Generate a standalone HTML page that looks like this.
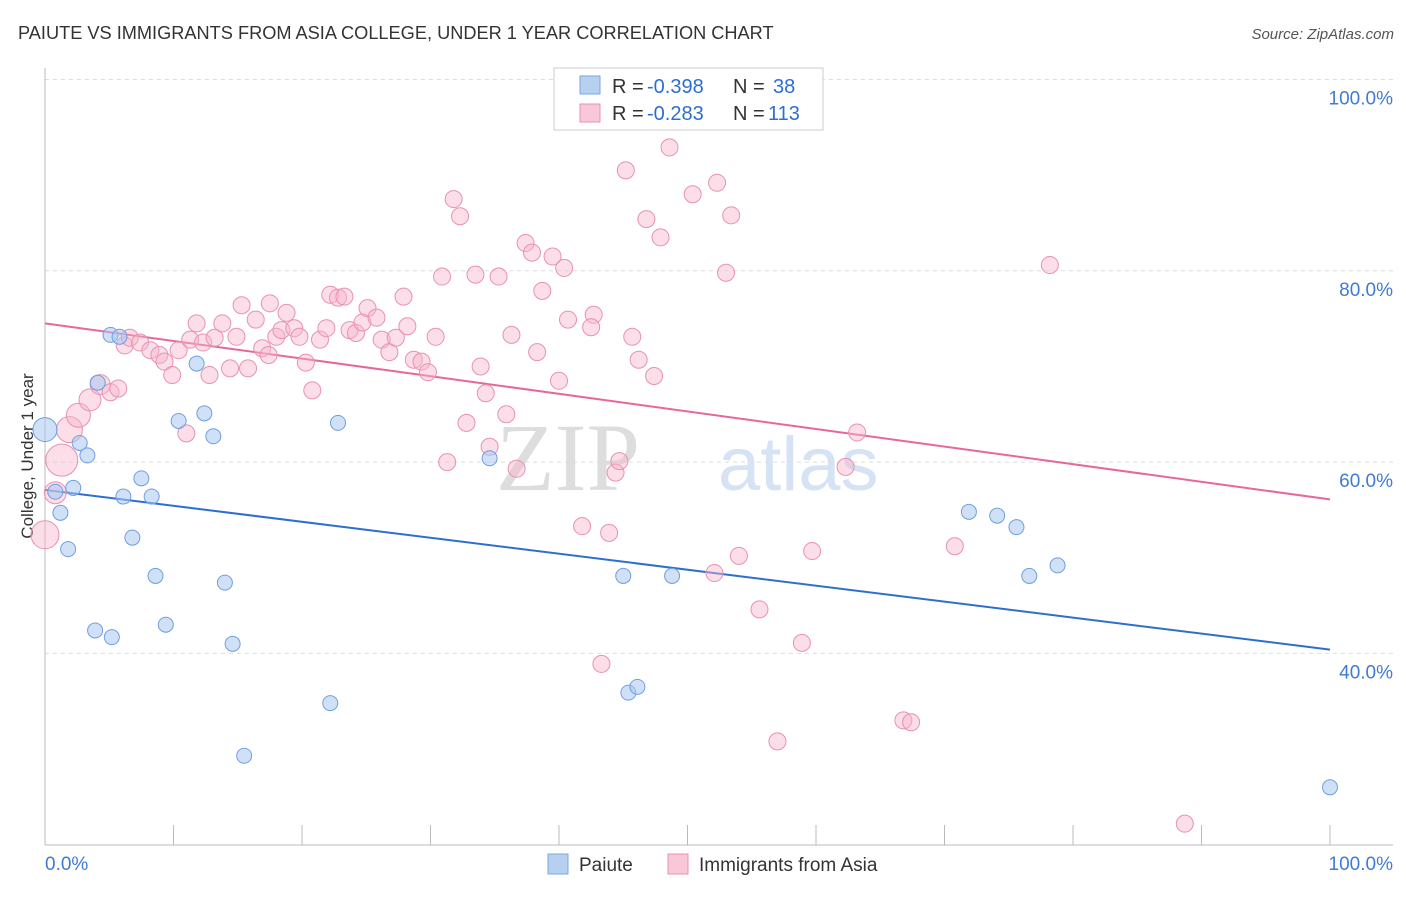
<!DOCTYPE html>
<html><head><meta charset="utf-8"><style>
body{margin:0;background:#fff;font-family:"Liberation Sans",sans-serif}
</style></head><body>
<svg id="chart" width="1406" height="892" xmlns="http://www.w3.org/2000/svg" font-family="Liberation Sans, sans-serif">
<text x="18" y="39" font-size="18.2" fill="#333">PAIUTE VS IMMIGRANTS FROM ASIA COLLEGE, UNDER 1 YEAR CORRELATION CHART</text>
<text x="1394" y="39" font-size="15" fill="#555" text-anchor="end" font-style="italic">Source: ZipAtlas.com</text>
<text transform="translate(33,456) rotate(-90)" font-size="17" fill="#333" text-anchor="middle">College, Under 1 year</text>
<g>
<text x="640" y="490" font-size="96" fill="#ddd" text-anchor="end" font-family="Liberation Serif, serif">ZIP</text>
<text x="718" y="490" font-size="76" fill="#d5e3f5">atlas</text>
</g>
<g id="grid"></g><g id="axes"></g><g id="trend"></g><g id="pts"></g>
<g>
<rect x="554" y="68" width="269" height="62" fill="#fff" stroke="#ccc"/>
<rect x="580" y="76" width="20" height="18" fill="#b8d0f0" stroke="#7aa6e0"/>
<rect x="580" y="104" width="20" height="18" fill="#f9c8d8" stroke="#e991b0"/>
<text x="612" y="93" font-size="20" fill="#333">R =</text>
<text x="647" y="93" font-size="20" fill="#2d6fd0">-0.398</text>
<text x="733" y="93" font-size="20" fill="#333">N =</text>
<text x="773" y="93" font-size="20" fill="#2d6fd0">38</text>
<text x="612" y="120" font-size="20" fill="#333">R =</text>
<text x="647" y="120" font-size="20" fill="#2d6fd0">-0.283</text>
<text x="733" y="120" font-size="20" fill="#333">N =</text>
<text x="768" y="120" font-size="20" fill="#2d6fd0">113</text>
</g>
<g>
<rect x="548" y="854" width="20" height="20" fill="#b8d0f0" stroke="#7aa6e0"/>
<text x="579" y="871" font-size="19" fill="#333">Paiute</text>
<rect x="668" y="854" width="20" height="20" fill="#f9c8d8" stroke="#e991b0"/>
<text x="699" y="871" font-size="19" fill="#333">Immigrants from Asia</text>
</g>
</svg>
<script>
const blueX=[0,0.8,1.2,1.8,2.2,2.7,3.3,4.1,5.1,5.8,3.9,5.2,6.1,6.8,7.5,8.3,8.6,9.4,10.4,11.8,12.4,13.1,14.0,14.6,15.5,22.2,22.8,34.6,45.0,45.4,46.1,48.8,71.9,74.1,75.6,76.6,78.8,100];
const blueY=[63.4,56.9,54.7,50.9,57.3,62.0,60.7,68.3,73.3,73.1,42.4,41.7,56.4,52.1,58.3,56.4,48.1,43.0,64.3,70.3,65.1,62.7,47.4,41.0,29.3,34.8,64.1,60.4,48.1,35.9,36.5,48.1,54.8,54.4,53.2,48.1,49.2,26.0];
const pinkX=[0,0.8,1.3,1.9,2.6,3.5,4.3,5.1,5.7,6.2,6.6,7.4,8.2,8.9,9.3,9.9,10.4,11.0,11.3,11.8,12.3,12.8,13.2,13.8,14.4,14.9,15.3,15.8,16.4,16.9,17.4,17.5,18.0,18.4,18.8,19.4,19.8,20.3,20.8,21.4,21.9,22.2,22.8,23.3,23.7,24.2,24.7,25.1,25.8,26.2,26.8,27.3,27.9,28.2,28.7,29.3,29.8,30.4,30.9,31.3,31.8,32.3,32.8,33.5,33.9,34.3,34.6,35.3,35.9,36.3,36.7,37.4,37.9,38.3,38.7,39.5,40.0,40.4,40.7,41.8,42.7,42.5,43.3,43.9,44.4,44.7,45.2,45.7,46.2,46.8,47.4,47.9,48.6,50.4,52.1,52.3,53.0,53.4,54.0,55.6,57.0,58.9,59.7,62.3,63.2,66.8,67.4,70.8,78.2,88.7];
const pinkY=[52.4,56.8,60.2,63.4,64.9,66.5,68.1,67.3,67.7,72.2,73.0,72.5,71.7,71.2,70.5,69.1,71.7,63.0,72.8,74.5,72.5,69.1,73.0,74.5,69.8,73.1,76.4,69.8,74.9,71.9,71.2,76.6,73.1,73.8,75.6,74.0,73.1,70.4,67.5,72.8,74.0,77.5,77.2,77.3,73.8,73.5,74.6,76.1,75.1,72.8,71.5,73.0,77.3,74.2,70.7,70.5,69.4,73.1,79.4,60.0,87.5,85.7,64.1,79.6,70.0,67.2,61.6,79.4,65.0,73.3,59.3,82.9,81.9,71.5,77.9,81.5,68.5,80.3,74.9,53.3,75.4,74.1,38.9,52.6,58.9,60.1,90.5,73.1,70.7,85.4,69.0,83.5,92.9,88.0,48.4,89.2,79.8,85.8,50.2,44.6,30.8,41.1,50.7,59.5,63.1,33.0,32.8,51.2,80.6,22.2];
const bigPink={0:14,1:11,2:16,3:13,4:12,5:11,6:10};
const trendStart=[57.1,74.5];
const trendEnd=[40.4,56.1];
const yTicks=[100,80,60,40];
const xTickLabels=["0.0%","100.0%"];
const NS="http://www.w3.org/2000/svg";
const X0=45,X1=1330,Ybase=1036,Ypp=9.565;
const sx=v=>X0+(X1-X0)*v/100;
const sy=v=>Ybase-v*Ypp;
function mk(tag,attrs,parent){const e=document.createElementNS(NS,tag);for(const k in attrs)e.setAttribute(k,attrs[k]);document.getElementById(parent).appendChild(e);return e;}
yTicks.forEach(t=>{
 const l=mk('line',{x1:45,x2:1393,y1:sy(t),y2:sy(t),stroke:'#ddd','stroke-dasharray':'4,4'},'grid');
 
 
 const tx=mk('text',{x:1393,y:sy(t)+25,'font-size':19,fill:'#3f7bd6','text-anchor':'end'},'grid');
 tx.textContent=t.toFixed(1)+'%';
 
 
});
const ya=mk('line',{x1:45,x2:45,y1:68,y2:845,stroke:'#bbb'},'axes');


const xa=mk('line',{x1:45,x2:1393,y1:845,y2:845,stroke:'#bbb'},'axes');


for(let i=1;i<=10;i++){
 const t=mk('line',{x1:sx(i*10),x2:sx(i*10),y1:825,y2:845,stroke:'#bbb'},'axes');
 
 
}
[[0,'start'],[100,'end']].forEach((p,i)=>{
 const t=mk('text',{x:sx(p[0])+(i?63:0),y:870,'font-size':19,fill:'#3f7bd6','text-anchor':p[1]},'axes');
 t.textContent=xTickLabels[i];
 
 
});
const cols=['#2d6fd0','#e8679a'];
[0,1].forEach(i=>{
 const l=mk('line',{x1:sx(0),y1:sy(trendStart[i]),x2:sx(100),y2:sy(trendEnd[i]),stroke:cols[i],'stroke-width':2},'trend');
 
 
});
pinkX.forEach((v,i)=>{
 const c=mk('circle',{cx:sx(v),cy:sy(pinkY[i]),r:bigPink[i]||8.5,fill:'rgba(247,182,204,0.45)',stroke:'#e991b0','stroke-width':1},'pts');
 
 
});
blueX.forEach((v,i)=>{
 const c=mk('circle',{cx:sx(v),cy:sy(blueY[i]),r:i==0?12:7.5,fill:'rgba(170,200,240,0.55)',stroke:'#6f9ee0','stroke-width':1},'pts');
 
 
});
</script>
</body></html>
